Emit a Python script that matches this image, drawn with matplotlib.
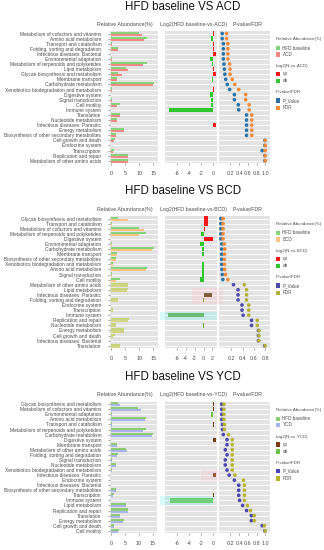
import matplotlib
matplotlib.use('Agg')
import matplotlib.pyplot as plt
from matplotlib.patches import Rectangle
import numpy as np

plt.rcParams['font.family'] = ['Liberation Sans', 'DejaVu Sans']

# ---------------- data ----------------
cats_acd = ["Metabolism of cofactors and vitamins", "Amino acid metabolism", "Transport and catabolism",
            "Folding, sorting and degradation", "Infectious diseases: Bacterial", "Environmental adaptation",
            "Metabolism of terpenoids and polyketides", "Lipid metabolism", "Glycan biosynthesis and metabolism",
            "Membrane transport", "Carbohydrate metabolism", "Xenobiotics biodegradation and metabolism",
            "Digestive system", "Signal transduction", "Cell motility", "Immune system", "Translation",
            "Nucleotide metabolism", "Infectious diseases: Parasitic", "Energy metabolism",
            "Biosynthesis of other secondary metabolites", "Cell growth and death", "Endocrine system",
            "Transcription", "Replication and repair", "Metabolism of other amino acids"]
hfd_acd = [9.7, 12.6, 0.3, 2.6, 0.1, 0.2, 12.6, 5.3, 2.6, 2.0, 15.3, 0.4, 0.1, 0.3, 3.0, 0.1,
           3.2, 2.0, 0.1, 4.6, 1.8, 1.3, 0.1, 0.9, 6.1, 5.9]
acd = [11.1, 11.7, 0.3, 2.6, 0.1, 0.2, 11.2, 6.1, 3.8, 2.0, 15.0, 0.4, 0.1, 0.3, 2.2, 0.1,
       3.2, 2.0, 0.1, 4.6, 1.8, 1.1, 0.1, 0.8, 6.1, 5.9]
log2_acd = [0.2, -0.3, 0.2, 0.2, 0.5, -0.45, -0.2, 0.2, 0.45, -0.2, -0.1, 0.2, -0.45, -0.3, -0.3, -7.4,
            -0.05, -0.05, 0.45, -0.05, 0.05, -0.05, -0.05, 0.05, -0.05, 0.05]
p_acd = [0.01, 0.01, 0.036, 0.036, 0.036, 0.036, 0.05, 0.06, 0.07, 0.09, 0.125, 0.18, 0.29, 0.29, 0.38, 0.39,
         0.57, 0.57, 0.57, 0.57, 0.57, 0.99, 0.99, 0.93, 0.99, 0.99]
fdr_acd = [0.11, 0.11, 0.14, 0.14, 0.14, 0.14, 0.18, 0.19, 0.19, 0.24, 0.30, 0.39, 0.55, 0.55, 0.63, 0.63,
           0.69, 0.69, 0.69, 0.69, 0.69, 1.0, 1.0, 1.0, 1.0, 1.0]

cats_bcd = ["Glycan biosynthesis and metabolism", "Transport and catabolism", "Metabolism of cofactors and vitamins",
            "Metabolism of terpenoids and polyketides", "Digestive system", "Environmental adaptation",
            "Carbohydrate metabolism", "Membrane transport", "Biosynthesis of other secondary metabolites",
            "Xenobiotics biodegradation and metabolism", "Amino acid metabolism", "Signal transduction",
            "Cell motility", "Metabolism of other amino acids", "Lipid metabolism", "Infectious diseases: Parasitic",
            "Folding, sorting and degradation", "Endocrine system", "Transcription", "Immune system",
            "Replication and repair", "Nucleotide metabolism", "Energy metabolism", "Cell growth and death",
            "Infectious diseases: Bacterial", "Translation"]
hfd_bcd = [2.6, 0.3, 9.7, 12.3, 0.1, 0.2, 15.3, 2.0, 1.8, 0.5, 12.6, 0.3, 3.0, 5.9, 5.9, 0.1,
           2.6, 0.1, 0.8, 0.1, 6.3, 1.8, 4.6, 1.2, 0.1, 3.2]
bcd = [5.8, 0.3, 11.8, 9.7, 0.1, 0.2, 14.4, 2.0, 1.8, 0.5, 12.3, 0.3, 1.7, 5.8, 5.5, 0.1,
       2.4, 0.1, 0.6, 0.1, 6.1, 1.8, 4.4, 0.8, 0.1, 3.0]
log2_bcd = [1.1, 0.9, 0.35, -0.5, 2.1, -0.7, -0.3, -0.4, 0.1, -0.3, -0.3, -0.4, -0.8, 0.05, 0.05, 1.9,
            -0.05, 0.05, 0.05, -7.9, 0.05, -0.05, 0.05, 0.05, 0.05, 0.05]
p_bcd = [0.015, 0.015, 0.015, 0.015, 0.015, 0.03, 0.03, 0.03, 0.03, 0.03, 0.035, 0.04, 0.05, 0.24, 0.32, 0.32,
         0.32, 0.39, 0.39, 0.41, 0.56, 0.56, 0.68, 0.68, 0.68, 0.79]
fdr_bcd = [0.055, 0.055, 0.055, 0.055, 0.055, 0.075, 0.085, 0.08, 0.08, 0.08, 0.085, 0.1, 0.14, 0.43, 0.47, 0.47,
           0.47, 0.51, 0.51, 0.51, 0.66, 0.66, 0.69, 0.69, 0.69, 0.80]

cats_ycd = ["Glycan biosynthesis and metabolism", "Metabolism of cofactors and vitamins", "Environmental adaptation",
            "Amino acid metabolism", "Transport and catabolism", "Metabolism of terpenoids and polyketides",
            "Carbohydrate metabolism", "Digestive system", "Membrane transport", "Metabolism of other amino acids",
            "Folding, sorting and degradation", "Signal transduction", "Nucleotide metabolism",
            "Xenobiotics biodegradation and metabolism", "Infectious diseases: Parasitic", "Endocrine system",
            "Infectious diseases: Bacterial", "Biosynthesis of other secondary metabolites", "Transcription",
            "Immune system", "Lipid metabolism", "Replication and repair", "Translation", "Energy metabolism",
            "Cell growth and death", "Cell motility"]
hfd_ycd = [2.6, 9.9, 0.2, 12.6, 0.3, 12.6, 15.3, 0.1, 2.0, 5.5, 2.6, 0.3, 1.8, 0.5, 0.1, 0.1,
           0.1, 1.8, 1.0, 0.1, 5.3, 6.1, 3.2, 4.6, 1.2, 2.8]
ycd = [3.2, 10.9, 0.2, 12.3, 0.3, 11.6, 14.8, 0.1, 2.0, 5.8, 2.3, 0.3, 1.8, 0.5, 0.1, 0.1,
       0.1, 1.7, 0.8, 0.1, 5.5, 6.1, 3.2, 4.4, 1.1, 2.6]
log2_ycd = [0.2, 0.15, -0.3, -0.1, 0.2, -0.1, -0.05, 0.5, -0.05, 0.05, -0.05, -0.05, 0.05, -0.05, 0.5, -0.05,
            0.05, -0.05, 0.1, -7.2, -0.05, 0.05, 0.05, -0.05, 0.05, -0.05]
p_ycd = [0.0, 0.0, 0.0, 0.0, 0.015, 0.015, 0.035, 0.12, 0.12, 0.08, 0.12, 0.08, 0.08, 0.12, 0.17, 0.29,
         0.39, 0.39, 0.39, 0.41, 0.48, 0.57, 0.68, 0.68, 0.93, 0.99]
fdr_ycd = [0.05, 0.05, 0.05, 0.05, 0.06, 0.06, 0.155, 0.24, 0.24, 0.24, 0.24, 0.24, 0.24, 0.24, 0.3, 0.5,
           0.52, 0.52, 0.52, 0.52, 0.59, 0.66, 0.75, 0.75, 0.98, 1.0]

# ---------------- layout ----------------
W, H = 324, 550
fig = plt.figure(figsize=(W / 100, H / 100), dpi=100)
BG = '#E3E3E3'
TXT = '#4D4D4D'


def add_ax(x0, y0, x1, y1):
    return fig.add_axes([x0 / W, 1 - y1 / H, (x1 - x0) / W, (y1 - y0) / H])


def fx(x):
    return x / W


def fy(y):
    return 1 - y / H


def style(ax, n):
    ax.set_facecolor(BG)
    for s in ax.spines.values():
        s.set_visible(False)
    ax.set_ylim(n - 0.5, -0.5)
    ax.set_yticks(np.arange(n))
    ax.grid(axis='y', color='white', lw=0.6)
    ax.set_axisbelow(True)
    ax.tick_params(axis='x', labelsize=3.9, length=1.6, width=0.4, color='#555555',
                   pad=4.2, labelcolor=TXT)


def panel(top, bot, abx1, cats, hfd, grp, lg, p, fdr, cols, log_xlim, log_ticks,
          p_xlim, p_ticks, title, grpname, alt=None):
    n = len(cats)
    y = np.arange(n)
    green, gcol, upc, dec, pc, fc = cols
    # colours per row (alternate palette for lower rows if given)
    def rowcols(base, altc):
        c = [base] * n
        if alt is not None:
            for i in range(alt[0], n):
                c[i] = altc
        return c

    ax1 = add_ax(110, top, abx1, bot)
    style(ax1, n)
    ax1.barh(y - 0.2, hfd, height=0.4, color=rowcols(green, alt[1] if alt else None))
    ax1.barh(y + 0.2, grp, height=0.4, color=rowcols(gcol, alt[2] if alt else None))
    ax1.set_xlim(-0.4, 16.6)
    ax1.set_xticks([0, 5, 10, 15])
    ax1.set_yticklabels(cats, fontsize=3.55, color=TXT)
    ax1.tick_params(axis='y', length=1.8, width=0.4, color='#555555', pad=4.4)

    ax2 = add_ax(165, top, 216.5, bot)
    style(ax2, n)
    ax2.set_yticklabels([])
    ax2.tick_params(axis='y', length=0)
    lc = []
    for i, v in enumerate(lg):
        if alt is not None and i >= alt[0]:
            lc.append(alt[3] if v > 0 else alt[4])
        else:
            lc.append(upc if v > 0 else dec)
    ax2.barh(y, lg, height=0.85, color=lc)
    ax2.set_xlim(*log_xlim)
    ax2.set_xticks(log_ticks)
    ax2.set_xticklabels([str(t) for t in log_ticks])

    ax3 = add_ax(218.5, top, 270, bot)
    style(ax3, n)
    ax3.set_yticklabels([])
    ax3.tick_params(axis='y', length=0)
    ax3.scatter(p, y, s=7, color=rowcols(pc, alt[5] if alt else None), lw=0, zorder=3)
    ax3.scatter(fdr, y, s=7, color=rowcols(fc, alt[6] if alt else None), lw=0, zorder=4)
    ax3.set_xlim(*p_xlim)
    ax3.set_xticks(p_ticks)
    ax3.set_xticklabels(['%.1f' % t for t in p_ticks])

    # titles and headers
    fig.text(fx(183), fy(top - 24.5), title, ha='center', va='center', fontsize=8.3, color='#111111')
    hy = fy(top - 6.8)
    fig.text(fx(125), hy, 'Relative Abundance(%)', ha='center', va='center', fontsize=3.8, color=TXT)
    fig.text(fx(193.5), hy, 'Log2(HFD baseline-vs-%s)' % grpname, ha='center', va='center',
             fontsize=3.8, color=TXT)
    fig.text(fx(248), hy, 'P-value/FDR', ha='center', va='center', fontsize=3.8, color=TXT)

    # legend
    lcols = cols if alt is None else (green, gcol, upc, dec, alt[5], alt[6])
    entries = [(8, 'Relative Abundance(%)', None),
               (17, 'HFD baseline', lcols[0]), (23.3, grpname, lcols[1]),
               (35, 'Log2(N-vs-%s)' % grpname, None),
               (42.8, 'up', lcols[2]), (49.8, 'de', lcols[3]),
               (61, 'P-value/FDR', None),
               (69.5, 'P_Value', lcols[4]), (76.7, 'FDR', lcols[5])]
    for dy, lab, c in entries:
        yy = top + dy
        if c is None:
            fig.text(fx(275.5), fy(yy), lab, ha='left', va='center', fontsize=3.2, color=TXT)
        else:
            fig.add_artist(Rectangle((fx(276), fy(yy + 2.2)), 4.3 / W, 4.4 / H,
                                     transform=fig.transFigure, facecolor=c, edgecolor='none'))
            fig.text(fx(282.5), fy(yy), lab, ha='left', va='center', fontsize=3.3, color=TXT)


def hl(x0, y0, x1, y1, c, a):
    fig.add_artist(Rectangle((fx(x0), fy(y1)), (x1 - x0) / W, (y1 - y0) / H, transform=fig.transFigure,
                             facecolor=c, edgecolor='none', alpha=a, zorder=10))


# Panel 1
panel(31, 163.3, 158, cats_acd, hfd_acd, acd, log2_acd, p_acd, fdr_acd,
      ('#86D27A', '#F08A84', '#F01818', '#2FC62F', '#2A72A8', '#F28A3A'),
      (-8.1, 0.57), [-6, -4, -2, 0], (-0.076, 1.11), [0.2, 0.4, 0.6, 0.8, 1.0],
      'HFD baseline VS ACD', 'ACD')

# Panel 2 (lower rows drawn in a different palette in the reference)
panel(216, 348.3, 158, cats_bcd, hfd_bcd, bcd, log2_bcd, p_bcd, fdr_bcd,
      ('#86D27A', '#FDC383', '#F01818', '#2FC62F', '#2A72A8', '#F28A3A'),
      (-8.6, 2.9), [-6, -4, -2, 0, 2], (-0.026, 0.886), [0.2, 0.4, 0.6, 0.8],
      'HFD baseline VS BCD', 'BCD',
      alt=(13, '#C6D57A', '#D2D48A', '#5E4A10', '#62A536', '#4B4BA8', '#B3B03A'))

# Panel 3
panel(401.7, 533.3, 157, cats_ycd, hfd_ycd, ycd, log2_ycd, p_ycd, fdr_ycd,
      ('#8CCB74', '#A9B5EA', '#7A3B0C', '#6DBF45', '#4B46AE', '#B7B52E'),
      (-8.1, 0.57), [-6, -4, -2, 0], (-0.076, 1.11), [0.2, 0.4, 0.6, 0.8, 1.0],
      'HFD baseline VS YCD', 'YCD')

# highlight washes present in the reference
hl(159.5, 311.7, 216.5, 320.0, '#7FF5F0', 0.3)
hl(191.5, 288.0, 223.0, 303.5, '#FFB6C8', 0.22)
hl(159.5, 495.8, 213.0, 504.5, '#7FF5F0', 0.3)
hl(200.5, 470.0, 220.0, 481.0, '#FFB6C8', 0.22)

fig.savefig('out.png', dpi=100)
